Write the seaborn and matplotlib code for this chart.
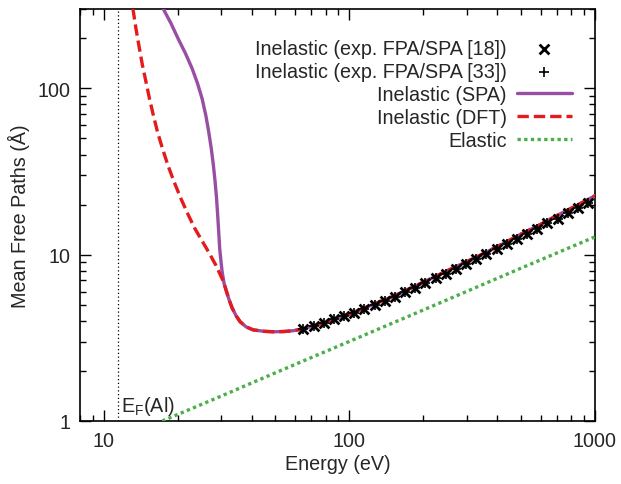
import numpy as np
import pandas as pd
import matplotlib
matplotlib.use("Agg")
import matplotlib.pyplot as plt
from matplotlib.ticker import LogLocator, NullFormatter, FixedLocator, FixedFormatter
import seaborn as sns

# ── DATA ───────────────────────────────────────────────
# low-energy branches (eV, Angstrom)
spa_E = [17.41, 18.77, 20.04, 21.51, 22.87, 24.08, 25.12, 26.03, 26.73,
         27.39, 27.94, 28.39, 28.79, 29.09, 29.36, 29.64, 29.98, 30.32]
spa_L = [303, 246, 200, 162, 132, 107, 87, 68.7, 55, 43.5, 34.4, 27.5, 21.7,
         17.2, 13.8, 10.9, 9.2, 7.9]
dft_E = [13.13, 13.51, 13.96, 14.36, 14.84, 15.34, 15.92, 16.53, 17.33,
         18.25, 19.31, 20.62, 22.13, 23.52, 25.23, 26.95, 28.65, 30.32]
dft_L = [303, 230, 174, 138, 110, 87, 68.7, 55, 43.5, 34.4, 27.5, 21.7, 17.2,
         14.3, 11.98, 10.14, 8.59, 7.17]
# shared part of both inelastic curves above ~31 eV
tail_E = [30.9, 31.62, 32.37, 33.29, 34.58, 35.91, 37.99, 40.58, 45, 49, 54,
          59, 65, 72, 80, 90, 100, 120, 150, 180, 220, 270, 340, 420, 500,
          600, 700, 850, 1000]
tail_L = [6.69, 5.98, 5.36, 4.79, 4.29, 3.95, 3.68, 3.53, 3.46, 3.44, 3.45,
          3.49, 3.58, 3.75, 3.94, 4.18, 4.4, 4.9, 5.6, 6.35, 7.3, 8.45, 9.9,
          11.6, 13.3, 15.2, 17.2, 19.9, 22.6]

el_E = [17.3, 30, 50, 100, 200, 500, 1000]
el_L = [1.0, 1.41, 1.95, 3.01, 4.65, 8.3, 12.8]

exp_E = [65, 71.5, 78.6, 86.5, 95.2, 104.7, 115.2, 126.7, 139.3, 153.3,
         168.6, 185.4, 204, 224.4, 246.8, 271.5, 298.7, 328.5, 361.4, 397.5,
         437.3, 481, 529, 582, 640, 704, 775, 852, 937]
exp_L = [3.55, 3.72, 3.90, 4.08, 4.28, 4.48, 4.72, 5.0, 5.3, 5.6, 5.95, 6.3,
         6.75, 7.2, 7.7, 8.2, 8.8, 9.4, 10.1, 10.8, 11.6, 12.4, 13.3, 14.3,
         15.4, 16.5, 17.8, 19.1, 20.4]

E_fermi = 11.4

spa = pd.DataFrame({"E": spa_E + tail_E, "L": spa_L + tail_L})
dft = pd.DataFrame({"E": dft_E + tail_E, "L": dft_L + tail_L})
el = pd.DataFrame({"E": el_E, "L": el_L})
ex = pd.DataFrame({"E": exp_E, "L": exp_L})

# ── STYLE ──────────────────────────────────────────────
sns.set_theme(style="ticks")
plt.rcParams['font.family'] = ['Liberation Sans', 'DejaVu Sans']
plt.rcParams['mathtext.fontset'] = 'custom'
plt.rcParams['mathtext.rm'] = 'Liberation Sans'
plt.rcParams['mathtext.it'] = 'Liberation Sans:italic'
fs = 14.2
pal = sns.color_palette("Set1")
red, green, purple = pal[0], pal[2], pal[3]

fig = plt.figure(figsize=(6.21, 4.85), dpi=100)
ax = fig.add_axes([80/621, 1-422/485, 515/621, 412/485])

# ── PLOT ───────────────────────────────────────────────
sns.scatterplot(data=ex, x="E", y="L", marker="x", color="black", s=50,
                linewidth=2.0, label="Inelastic (exp. FPA/SPA [18])",
                ax=ax, zorder=5)
sns.scatterplot(data=ex, x="E", y="L", marker="+", color="black", s=50,
                linewidth=1.2, label="Inelastic (exp. FPA/SPA [33])",
                ax=ax, zorder=5)
sns.lineplot(data=spa, x="E", y="L", color=purple, linewidth=2.4,
             sort=False, estimator=None, label="Inelastic (SPA)", ax=ax, zorder=3)
sns.lineplot(data=dft, x="E", y="L", color=red, linewidth=2.4,
             linestyle=(0, (3.4, 1.5)), sort=False, estimator=None,
             label="Inelastic (DFT)", ax=ax, zorder=4)
sns.lineplot(data=el, x="E", y="L", color=green, linewidth=2.4,
             linestyle=(0, (1, 1)), sort=False, estimator=None,
             label="Elastic", ax=ax, zorder=3)

ax.axvline(E_fermi, color="black", linestyle=(0, (1, 2)), linewidth=0.9)
ax.text(E_fermi * 1.03, 1.05, r"E$_\mathrm{F}$(Al)", fontsize=fs,
        ha="left", va="bottom")

ax.set_xscale("log")
ax.set_yscale("log")
ax.set_xlim(8, 1000)
ax.set_ylim(1, 300)

ax.xaxis.set_major_locator(FixedLocator([10, 100, 1000]))
ax.xaxis.set_major_formatter(FixedFormatter(["10", "100", "1000"]))
ax.yaxis.set_major_locator(FixedLocator([1, 10, 100]))
ax.yaxis.set_major_formatter(FixedFormatter(["1", "10", "100"]))
ax.xaxis.set_minor_locator(LogLocator(base=10, subs=np.arange(2, 10)))
ax.yaxis.set_minor_locator(LogLocator(base=10, subs=np.arange(2, 10)))
ax.xaxis.set_minor_formatter(NullFormatter())
ax.yaxis.set_minor_formatter(NullFormatter())
ax.tick_params(which="both", direction="in", top=True, right=True,
               color="black", width=1.0, labelsize=fs, pad=7)
ax.tick_params(which="major", length=8)
ax.tick_params(which="minor", length=4)
for sp in ax.spines.values():
    sp.set_color("black")
    sp.set_linewidth(1.2)

ax.set_xlabel("Energy (eV)", fontsize=fs, labelpad=3)
ax.set_ylabel("Mean Free Paths (Å)", fontsize=fs, labelpad=5)

ax.legend(loc="upper right", bbox_to_anchor=(492/515, 1-30/412),
          frameon=False, markerfirst=False, fontsize=fs, borderpad=0,
          borderaxespad=0, handlelength=2.8, handletextpad=0.5,
          labelspacing=0.2, scatterpoints=1)

plt.savefig("out.png", dpi=100)
